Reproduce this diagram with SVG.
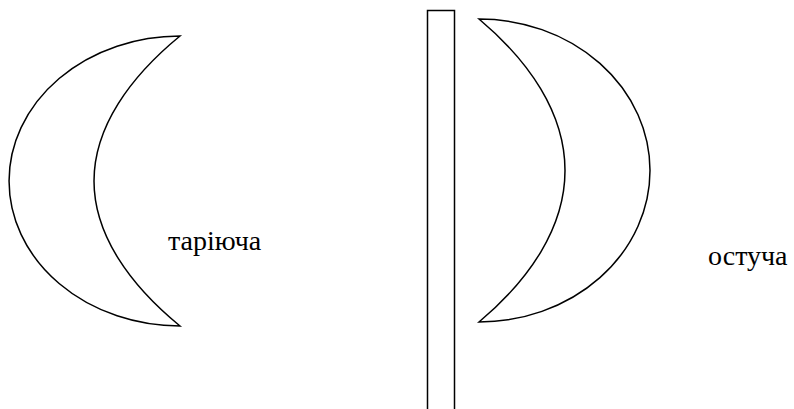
<svg xmlns="http://www.w3.org/2000/svg" width="794" height="409" viewBox="0 0 794 409">
<style>
.s{fill:#fff;stroke:#000;stroke-width:1.5}
.t{font-family:"Liberation Serif",serif;font-size:28px;fill:#000}
</style>
<rect width="794" height="409" fill="#fff"/>
<g id="left-crescent">
<path class="s" d="M180,36 A171,145 0 0 0 180,326 C130,285 94,235 94,181 C94,127 130,77 180,36 Z"/>
</g>
<g id="label-left"><text class="t" x="168" y="250">таріюча</text></g>
<g id="wall">
<rect class="s" x="427.5" y="10.5" width="27" height="410"/>
</g>
<g id="right-crescent">
<path class="s" d="M479,19 A171,151.5 0 0 1 479,322 C529,280 565,228 565,170.5 C565,113 529,61 479,19 Z"/>
</g>
<g id="label-right"><text class="t" x="708" y="265">остуча</text></g>
<g id="connectors"/>
</svg>
